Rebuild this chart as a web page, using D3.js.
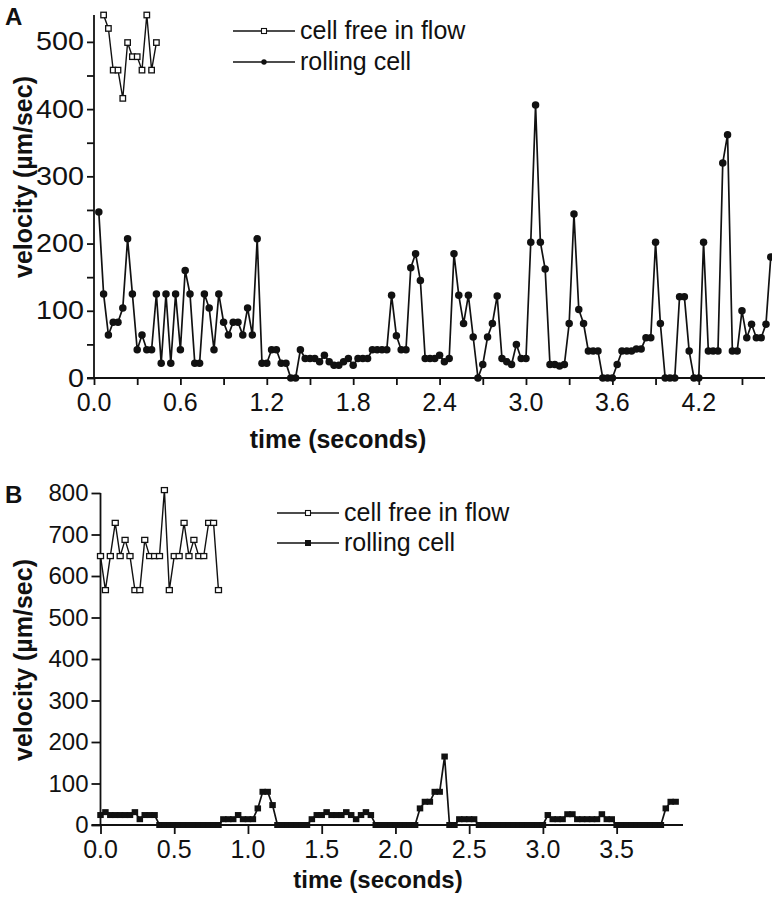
<!DOCTYPE html>
<html>
<head>
<meta charset="utf-8">
<script src="https://cdn.jsdelivr.net/npm/d3@7"></script>
<style>
  body { margin: 0; background: #fff; }
  svg { display: block; }
</style>
</head>
<body>
<div id="chart"></div>
<script>
// video frames, 30 per second
const fps = 30;

// Panel A - velocities in um/sec, one value per frame
const freeA = [540, 520, 458, 458, 416, 499, 478, 478, 458, 540, 458, 499];
const freeAStartFrame = 2;
const rollA = [
  247, 125, 64, 83, 83, 104, 207, 125, 42, 64, 42, 42, 125, 22, 125, 22, 125, 42, 160, 125,
  22, 22, 125, 104, 42, 125, 83, 64, 83, 83, 64, 104, 64, 207, 22, 22, 42, 42, 22, 22,
  0, 0, 42, 29, 29, 29, 24, 34, 24, 19, 19, 24, 29, 19, 29, 29, 29, 42, 42, 42,
  42, 123, 63, 42, 42, 164, 185, 145, 29, 29, 29, 34, 24, 29, 185, 123, 81, 123, 61, 0,
  20, 61, 81, 122, 29, 24, 20, 50, 29, 29, 202, 406, 202, 162, 20, 20, 18, 20, 81, 244,
  102, 81, 40, 40, 40, 0, 0, 0, 20, 40, 40, 40, 43, 43, 60, 60, 202, 81, 0, 0,
  0, 121, 121, 40, 0, 0, 202, 40, 40, 40, 320, 362, 40, 40, 100, 60, 80, 60, 60, 80,
  180
];
const rollAStartFrame = 1;
const yTicksA = [0, 100, 200, 300, 400, 500];
const yMinorA = [50, 150, 250, 350, 450];
const xTicksA = [0, 0.6, 1.2, 1.8, 2.4, 3.0, 3.6, 4.2];
const xMinorA = [0.3, 0.9, 1.5, 2.1, 2.7, 3.3, 3.9, 4.5];

// Panel B
const freeB = [648, 566, 648, 728, 648, 687, 648, 566, 566, 687, 648, 648, 648, 807, 566, 648,
  648, 728, 648, 687, 648, 648, 728, 728, 566];
const freeBStartFrame = 0;
const rollB = [
  24, 31, 24, 24, 24, 24, 24, 31, 14, 24, 24, 24, 0, 0, 0, 0, 0, 0, 0, 0,
  0, 0, 0, 0, 0, 14, 14, 14, 24, 14, 14, 14, 40, 80, 80, 48, 0, 0, 0, 0,
  0, 0, 0, 14, 24, 24, 31, 24, 24, 24, 31, 24, 14, 24, 31, 24, 0, 0, 0, 0,
  0, 0, 0, 0, 0, 40, 56, 56, 80, 80, 165, 0, 0, 14, 14, 14, 14, 0, 0, 0,
  0, 0, 0, 0, 0, 0, 0, 0, 0, 0, 0, 24, 14, 14, 14, 26, 26, 14, 14, 14,
  14, 14, 26, 14, 14, 0, 0, 0, 0, 0, 0, 0, 0, 0, 0, 40, 56, 56
];
const rollBStartFrame = 0;
const yTicksB = [0, 100, 200, 300, 400, 500, 600, 700, 800];
const xTicksB = [0, 0.5, 1.0, 1.5, 2.0, 2.5, 3.0, 3.5];

const legendLabels = ["cell free in flow", "rolling cell"];

const toPoints = (values, startFrame) =>
  values.map((v, i) => ({ t: (startFrame + i) / fps, v }));

const W = 772, H = 899;
const font = "'Liberation Sans', Arial, Helvetica, sans-serif";

const svg = d3.select("#chart").append("svg")
  .attr("width", W).attr("height", H)
  .attr("viewBox", [0, 0, W, H]);

// text with optional horizontal stretch
function text(g, x, y, str, o = {}) {
  return g.append("text")
    .attr("transform", `translate(${x},${y}) scale(${o.sx || 1},1)` + (o.rot ? ` rotate(${o.rot})` : ""))
    .attr("text-anchor", o.anchor || "start")
    .attr("font-family", font)
    .attr("font-size", o.size || 24)
    .attr("font-weight", o.bold ? "bold" : "normal")
    .attr("fill", "#111")
    .text(str);
}

function drawPanel(p) {
  const g = svg.append("g");
  const x = d3.scaleLinear().domain(p.xDomain).range(p.xRange);
  const y = d3.scaleLinear().domain(p.yDomain).range(p.yRange);

  // axes
  const xAxis = d3.axisBottom(x).tickValues(p.xTicks.concat(p.xMinor || []))
    .tickSize(p.tick).tickFormat("");
  g.append("g").attr("transform", `translate(0,${p.yRange[0]})`).call(xAxis)
    .call(a => a.select(".domain").attr("d", `M${p.xRange[0] - p.tick},0H${p.xRange[1]}`));
  const yAxis = d3.axisLeft(y).tickValues(p.yTicks.concat(p.yMinor || []))
    .tickSize(p.tick).tickFormat("");
  g.append("g").attr("transform", `translate(${p.xRange[0]},0)`).call(yAxis)
    .call(a => a.select(".domain").attr("d", `M0,${p.yRange[0]}V${p.yRange[1]}`));
  g.selectAll(".domain, .tick line").attr("stroke", "#111").attr("stroke-width", 1.8);

  p.xTicks.forEach(t =>
    text(g, x(t), p.xLabelY, d3.format(".1f")(t), { anchor: "middle", size: 25 }));
  p.yTicks.forEach(v =>
    text(g, p.xRange[0] - p.tick - 3, y(v) + p.yLabelSize * 0.34, String(v),
      { anchor: "end", sx: p.ySx, size: p.yLabelSize }));

  text(g, p.xTitleX, p.xTitleY, "time (seconds)", { anchor: "middle", bold: true, size: p.xTitleSize });
  text(g, p.yTitleX, p.yTitleY, "velocity (\u00b5m/sec)", { anchor: "middle", bold: true, size: 25, rot: -90 });
  text(g, p.panelX, p.panelY, p.panel, { bold: true, size: 24 });

  const line = d3.line().x(d => x(d.t)).y(d => y(d.v));

  const free = toPoints(p.free, p.freeStart);
  const roll = toPoints(p.roll, p.rollStart);

  g.append("path").datum(roll).attr("d", line)
    .attr("fill", "none").attr("stroke", "#111").attr("stroke-width", 1.7);
  g.append("path").datum(free).attr("d", line)
    .attr("fill", "none").attr("stroke", "#111").attr("stroke-width", 1.4);

  const drawRoll = (sel) => p.filledShape === "circle"
    ? sel.append("circle").attr("r", p.mark / 2).attr("fill", "#111")
    : sel.append("rect").attr("x", -p.markW / 2).attr("y", -p.mark / 2)
        .attr("width", p.markW).attr("height", p.mark).attr("fill", "#111");
  const drawFree = (sel) => sel.append("rect")
    .attr("x", -p.openW / 2).attr("y", -p.open / 2)
    .attr("width", p.openW).attr("height", p.open)
    .attr("fill", "#fff").attr("stroke", "#111").attr("stroke-width", 1.3);

  g.append("g").selectAll("g").data(roll).join("g")
    .attr("transform", d => `translate(${x(d.t)},${y(d.v)})`).call(drawRoll);
  g.append("g").selectAll("g").data(free).join("g")
    .attr("transform", d => `translate(${x(d.t)},${y(d.v)})`).call(drawFree);

  // legend
  const lg = g.append("g");
  legendLabels.forEach((lab, i) => {
    const ly = p.legendY + i * p.legendGap;
    lg.append("line").attr("x1", p.legendX).attr("x2", p.legendX + p.legendLen)
      .attr("y1", ly).attr("y2", ly).attr("stroke", "#111").attr("stroke-width", 1.3);
    const m = lg.append("g").attr("transform", `translate(${p.legendX + p.legendLen / 2},${ly})`);
    if (i === 0) {
      m.append("rect").attr("x", -2.5).attr("y", -2.5).attr("width", 5).attr("height", 5)
        .attr("fill", "#fff").attr("stroke", "#111").attr("stroke-width", 1.1);
    } else if (p.filledShape === "circle") {
      m.append("circle").attr("r", 2.7).attr("fill", "#111");
    } else {
      m.append("rect").attr("x", -3).attr("y", -3).attr("width", 6).attr("height", 6).attr("fill", "#111");
    }
    text(lg, p.legendX + p.legendLen + 5, ly + 8, lab, { size: 25 });
  });
}

drawPanel({
  panel: "A", panelX: 5, panelY: 25,
  free: freeA, freeStart: freeAStartFrame, roll: rollA, rollStart: rollAStartFrame,
  xDomain: [0, 4.66], xRange: [94, 765],
  yDomain: [0, 540], yRange: [378, 15],
  xTicks: xTicksA, xMinor: xMinorA, yTicks: yTicksA, yMinor: yMinorA,
  tick: 7, ySx: 1.15, yLabelSize: 25,
  xLabelY: 411, xTitleX: 338, xTitleY: 448, xTitleSize: 25, yTitleX: 32, yTitleY: 177,
  filledShape: "circle", mark: 7.5, markW: 7.5, open: 5.5, openW: 5.5,
  legendX: 233, legendLen: 62, legendY: 31, legendGap: 31
});

drawPanel({
  panel: "B", panelX: 5, panelY: 503,
  free: freeB, freeStart: freeBStartFrame, roll: rollB, rollStart: rollBStartFrame,
  xDomain: [0, 3.95], xRange: [100.5, 683],
  yDomain: [0, 800], yRange: [825, 493],
  xTicks: xTicksB, yTicks: yTicksB,
  tick: 9, ySx: 1, yLabelSize: 24,
  xLabelY: 858, xTitleX: 378, xTitleY: 888, xTitleSize: 24, yTitleX: 32, yTitleY: 660,
  filledShape: "square", mark: 6, markW: 6.5, open: 5, openW: 6,
  legendX: 277, legendLen: 62, legendY: 513, legendGap: 30
});
</script>
</body>
</html>
